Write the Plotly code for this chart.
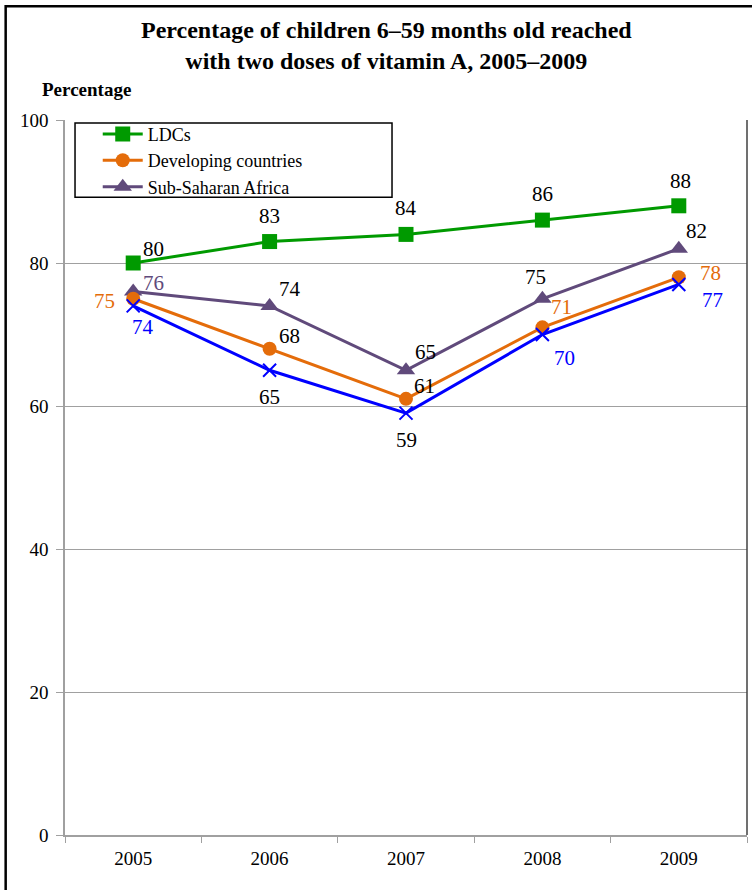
import plotly.graph_objects as go

years = ["2005", "2006", "2007", "2008", "2009"]
ldcs = [80, 83, 84, 86, 88]
developing = [75, 68, 61, 71, 78]
ssa = [76, 74, 65, 75, 82]
other = [74, 65, 59, 70, 77]

title_text = "Percentage of children 6\u201359 months old reached<br>with two doses of vitamin A, 2005\u20132009"
ytitle = "Percentage"
yticks = [0, 20, 40, 60, 80, 100]

GREEN = "#009A00"
ORANGE = "#E46C0A"
PURPLE = "#604A7B"
BLUE = "#0000FF"
FONT = "Liberation Serif, Times New Roman, serif"
LABEL_SIZE = 21

# label placement (pixel offsets from each point) and colours
ldcs_off = [(20, 14), (0, 26), (0, 26), (0, 26), (2, 25)]
ldcs_col = ["black"] * 5
dev_off = [(-29, -2), (20, 13), (18, 13), (19, 20), (32, 4)]
dev_col = [ORANGE, "black", "black", ORANGE, ORANGE]
ssa_off = [(20, 9), (20, 17), (19, 18), (-7, 22), (18, 18)]
ssa_col = [PURPLE, "black", "black", "black", "black"]
oth_off = [(10, -21), (0, -27), (0, -27), (22, -23), (34, -16)]
oth_col = [BLUE, "black", "black", BLUE, BLUE]

fig = go.Figure()

fig.add_trace(go.Scatter(
    x=years, y=ldcs, name="LDCs", mode="lines+markers",
    line=dict(color=GREEN, width=3),
    marker=dict(symbol="square", size=15, color=GREEN),
    legendrank=1,
))
fig.add_trace(go.Scatter(
    x=years, y=ssa, name="Sub-Saharan Africa", mode="lines+markers",
    line=dict(color=PURPLE, width=3),
    marker=dict(symbol="triangle-up", size=16, color=PURPLE),
    legendrank=3,
))
fig.add_trace(go.Scatter(
    x=years, y=developing, name="Developing countries", mode="lines+markers",
    line=dict(color=ORANGE, width=3),
    marker=dict(symbol="circle", size=14, color=ORANGE),
    legendrank=2,
))
fig.add_trace(go.Scatter(
    x=years, y=other, name="", mode="lines+markers", showlegend=False,
    line=dict(color=BLUE, width=3),
    marker=dict(symbol="x-thin-open", size=13, line=dict(color=BLUE, width=2)),
))

annotations = []
for vals, offs, cols in [(ldcs, ldcs_off, ldcs_col), (developing, dev_off, dev_col),
                         (ssa, ssa_off, ssa_col), (other, oth_off, oth_col)]:
    for i, (v, (dx, dy), c) in enumerate(zip(vals, offs, cols)):
        annotations.append(dict(
            x=i, y=v, xref="x", yref="y", text=str(v), showarrow=False,
            xanchor="center", yanchor="middle", xshift=dx, yshift=dy,
            font=dict(family=FONT, size=LABEL_SIZE, color=c)))

annotations += [
    dict(text="<b>" + title_text + "</b>", xref="paper", yref="paper",
         x=0.472, y=1.1035, xanchor="center", yanchor="middle", showarrow=False,
         font=dict(family=FONT, size=24, color="black"), align="center"),
    dict(text="<b>" + ytitle + "</b>", xref="paper", yref="paper",
         x=-0.037, y=1.043, xanchor="left", yanchor="middle", showarrow=False,
         font=dict(family=FONT, size=19, color="black")),
]

fig.update_layout(
    width=752, height=890,
    margin=dict(l=65, r=5, t=120, b=55),
    paper_bgcolor="white", plot_bgcolor="white",
    font=dict(family=FONT, size=18, color="black"),
    showlegend=True,
    legend=dict(
        x=0.048, y=1.006, xanchor="left", yanchor="top",
        borderwidth=0, bgcolor="rgba(0,0,0,0)",
        font=dict(family=FONT, size=18, color="black"),
        tracegroupgap=0, itemwidth=40,
    ),
    annotations=annotations,
    shapes=[
        dict(type="rect", xref="paper", yref="paper",
             x0=-0.087, x1=1.03, y0=-0.1, y1=1.159,
             line=dict(color="black", width=2.5), fillcolor="rgba(0,0,0,0)", layer="above"),
        dict(type="rect", xref="paper", yref="paper",
             x0=0.0147, x1=0.4795, y0=0.892, y1=0.9958,
             line=dict(color="black", width=1.5), fillcolor="rgba(0,0,0,0)", layer="above"),
        dict(type="line", xref="paper", yref="paper", x0=1, x1=1, y0=0, y1=1,
             line=dict(color="#404040", width=1.5)),
    ],
)

fig.update_xaxes(
    type="category", categoryorder="array", categoryarray=years,
    range=[-0.5, len(years) - 0.5],
    tickson="boundaries", ticks="outside", ticklen=6,
    tickcolor="#A0A0A0", showline=True, linecolor="#A0A0A0", linewidth=1.5,
    showgrid=False, tickfont=dict(family=FONT, size=19, color="black"),
    ticklabelstandoff=5,
)
fig.update_yaxes(
    range=[0, 100], tickvals=yticks, ticks="outside", ticklen=7,
    tickcolor="#A0A0A0", showline=True, linecolor="#A0A0A0", linewidth=1.5,
    showgrid=True, gridcolor="#A0A0A0", gridwidth=1, zeroline=False,
    tickfont=dict(family=FONT, size=19, color="black"),
    ticklabelstandoff=4,
)

fig.write_html("out.html", config={"displayModeBar": False},
               post_script="document.body.style.margin='0px';")
